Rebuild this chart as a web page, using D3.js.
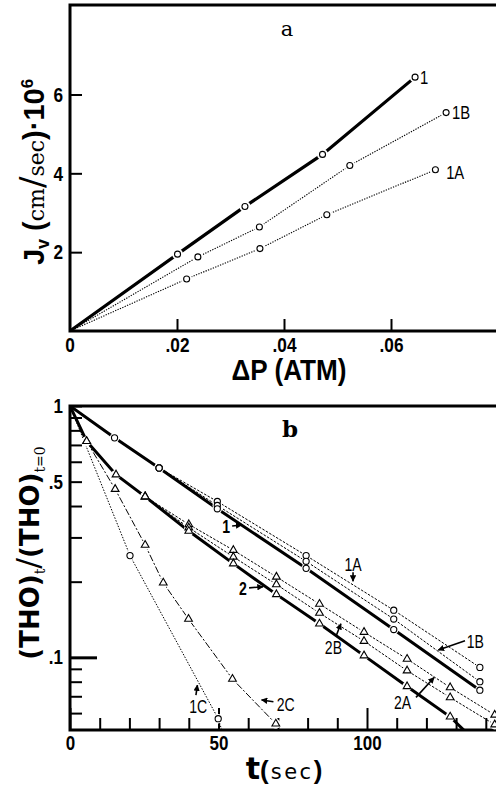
<!DOCTYPE html>
<html>
<head>
<meta charset="utf-8">
<script src="https://cdn.jsdelivr.net/npm/d3@7"></script>
<style>
	body { margin: 0; background: #fff; }
	svg { display: block; }
</style>
</head>
<body>
<div id="chart"></div>
<script>
// ---- panel a : Jv vs delta P ----
const aTicksX = [0.02, 0.04, 0.06];
const aTickLabelsX = [".02", ".04", ".06"];
const aTicksY = [2, 4, 6];
// [deltaP (atm), Jv * 1e6]
const a1 = [[0, 0], [0.0201, 1.95], [0.0327, 3.16], [0.0472, 4.48], [0.0645, 6.44]];
const a1B = [[0, 0], [0.0239, 1.88], [0.0354, 2.64], [0.0523, 4.20], [0.0703, 5.54]];
const a1A = [[0, 0], [0.0218, 1.32], [0.0355, 2.09], [0.0480, 2.95], [0.0683, 4.09]];
const aNames = ["1", "1B", "1A"];
const aNamePos = [[0.0662, 6.45], [0.0731, 5.56], [0.0720, 4.03]];

// ---- panel b : (THO)t/(THO)t=0 vs t ----
const bTicksXMinor = [10, 20, 30, 40, 60, 70, 80, 90, 110, 120, 130, 140];
const bTicksXMajor = [0, 50, 100];
const bTicksYMinor = [0.9, 0.8, 0.7, 0.6, 0.4, 0.3, 0.2, 0.09, 0.08, 0.07, 0.06];
const bTicksYMajor = [1, 0.5, 0.1];
const bTickLabelsY = ["1", ".5", ".1"];
// [t (sec), fraction]
const b1 = [[0, 1], [15, 0.747], [30, 0.567], [49.6, 0.390], [79.5, 0.226], [109, 0.129], [138, 0.074]];
const b1A = [[30, 0.567], [49.6, 0.417], [79.5, 0.254], [109, 0.154], [138, 0.0912]];
const b1B = [[30, 0.567], [49.6, 0.402], [79.5, 0.241], [109, 0.142], [138, 0.080]];
const b1C = [[0, 1], [20.2, 0.254], [49.9, 0.057], [51.4, 0.05]];
const b2 = [[0, 1], [5.6, 0.724], [15.5, 0.533], [25.3, 0.436], [40, 0.318], [55, 0.236], [69.5, 0.178],
	[84, 0.136], [99, 0.1016], [113.5, 0.0766], [128, 0.058], [133.6, 0.05]];
const b2A = [[25.3, 0.436], [40, 0.338], [55, 0.267], [69.5, 0.209], [84, 0.163], [99, 0.126],
	[113.5, 0.0985], [128, 0.0759], [143, 0.0590]];
const b2B = [[25.3, 0.436], [40, 0.328], [55, 0.251], [69.5, 0.195], [84, 0.150], [99, 0.116],
	[113.5, 0.0885], [128, 0.0692], [143, 0.054]];
const b2C = [[0, 1], [5.6, 0.724], [15.2, 0.467], [25.3, 0.280], [31.4, 0.198], [39.9, 0.142],
	[54.7, 0.082], [69.3, 0.0544]];
// annotations: name, text position, arrow start, arrow tip
const bNames = ["1A", "1B", "1", "2", "2B", "2A", "1C", "2C"];
const bNamePos = [[95.3, 0.235], [136.5, 0.116], [52.6, 0.331], [58.2, 0.188], [88.7, 0.109], [112, 0.066], [43.2, 0.0637], [72.6, 0.0647]];
const bArrowFrom = [[95.3, 0.218], [133, 0.1164], [54.6, 0.333], [60.3, 0.189], [89.6, 0.1216], [116.5, 0.0693], [42.4, 0.0708], [68.5, 0.0666]];
const bArrowTo = [[95.3, 0.201], [124, 0.107], [57.8, 0.336], [65, 0.191], [91.2, 0.136], [122.6, 0.0832], [42.9, 0.0775], [64.5, 0.0677]];

const SANS = "'Liberation Sans',Arial,sans-serif";
const SERIF = "'DejaVu Serif','Liberation Serif',serif";
const WIDE = "'DejaVu Sans',sans-serif";

// squeeze a text horizontally (no condensed face installed)
function condense(sel, f) {
	sel.each(function () {
		const L = this.getComputedTextLength();
		this.setAttribute("textLength", L * f);
		this.setAttribute("lengthAdjust", "spacingAndGlyphs");
	});
}

const svg = d3.select("#chart").append("svg")
	.attr("width", 496).attr("height", 786);

const defs = svg.append("defs");
defs.append("marker")
	.attr("id", "head")
	.attr("viewBox", "0 0 10 10")
	.attr("refX", 9).attr("refY", 5)
	.attr("markerWidth", 4).attr("markerHeight", 4)
	.attr("markerUnits", "strokeWidth")
	.attr("orient", "auto")
	.append("path").attr("d", "M0,0L10,5L0,10z").attr("fill", "#000");

// =========== PANEL A ===========
const xA = d3.scaleLinear().domain([0, 0.08]).range([70, 498]);
const yA = d3.scaleLinear().domain([0, 8.27]).range([331, 5]);
const gA = svg.append("g");

const axA = gA.append("g").attr("transform", `translate(0,${yA(0)})`)
	.call(d3.axisBottom(xA).tickValues(aTicksX).tickSize(-12).tickPadding(6)
		.tickFormat((d, i) => aTickLabelsX[i]));
const ayA = gA.append("g").attr("transform", `translate(${xA(0)},0)`)
	.call(d3.axisLeft(yA).tickValues(aTicksY).tickSize(-12).tickPadding(7));
gA.append("text").attr("class", "zero").attr("x", xA(0)).attr("y", yA(0) + 6).attr("dy", "0.71em")
	.attr("text-anchor", "middle").text("0")
	.style("font-family", SANS).style("font-weight", "bold").style("font-size", "21px");

[axA, ayA].forEach(ax => {
	ax.select(".domain").remove();
	ax.selectAll(".tick line").attr("stroke", "#000").attr("stroke-width", 2);
	ax.selectAll(".tick text").style("font-family", SANS).style("font-weight", "bold")
		.style("font-size", "21px").attr("fill", "#000");
});
condense(gA.selectAll(".tick text, text.zero"), 0.82);

// frame
gA.append("path")
	.attr("d", `M${xA(0.08)},${yA(8.27)}H${xA(0)}V${yA(0)}H${xA(0.08)}`)
	.attr("fill", "none").attr("stroke", "#000").attr("stroke-width", 3);

const lineA = d3.line().x(d => xA(d[0])).y(d => yA(d[1]));
const aSeries = [
	{ pts: a1, w: 3.2, dash: null },
	{ pts: a1B, w: 1.1, dash: "1.3,1.3" },
	{ pts: a1A, w: 1.1, dash: "1.3,1.3" }
];
aSeries.forEach(s => {
	gA.append("path").datum(s.pts).attr("d", lineA)
		.attr("fill", "none").attr("stroke", "#000")
		.attr("stroke-width", s.w).attr("stroke-dasharray", s.dash);
});
const aPts = aSeries.flatMap(s => s.pts.filter(d => d[0] > 0));
gA.selectAll("circle.halo").data(aPts).enter().append("circle").attr("class", "halo")
	.attr("cx", d => xA(d[0])).attr("cy", d => yA(d[1])).attr("r", 5.5).attr("fill", "#fff");
gA.selectAll("circle.mk").data(aPts).enter().append("circle").attr("class", "mk")
	.attr("cx", d => xA(d[0])).attr("cy", d => yA(d[1])).attr("r", 3)
	.attr("fill", "#fff").attr("stroke", "#000").attr("stroke-width", 1.1);

const aNameText = gA.selectAll("text.name").data(aNames).enter().append("text").attr("class", "name")
	.attr("x", (d, i) => xA(aNamePos[i][0])).attr("y", (d, i) => yA(aNamePos[i][1]))
	.attr("dy", "0.36em").attr("text-anchor", "middle").text(d => d)
	.style("font-family", SANS).style("font-size", "19px");
condense(aNameText, 0.78);

gA.append("text").attr("x", 287).attr("y", 36).attr("text-anchor", "middle").text("a")
	.style("font-family", SERIF).style("font-size", "21px");

const xLabA = gA.append("text").attr("x", 289).attr("y", 380).attr("text-anchor", "middle")
	.text("\u0394P (ATM)")
	.style("font-family", SANS).style("font-weight", "bold").style("font-size", "29px");
condense(xLabA, 0.9);

const yLabA = gA.append("text").attr("transform", "translate(44,172) rotate(-90)")
	.attr("text-anchor", "middle").attr("fill", "#000");
yLabA.append("tspan").text("J").style("font-family", SANS).style("font-weight", "bold").style("font-size", "29px");
yLabA.append("tspan").text("v").attr("dy", 5).style("font-family", SANS).style("font-weight", "bold").style("font-size", "18px");
yLabA.append("tspan").text(" (").attr("dy", -5).style("font-family", SANS).style("font-weight", "bold").style("font-size", "29px");
yLabA.append("tspan").text("cm").style("font-family", SERIF).style("font-size", "22px");
yLabA.append("tspan").text("/").style("font-family", SERIF).style("font-size", "34px");
yLabA.append("tspan").text("sec").style("font-family", SERIF).style("font-size", "22px");
yLabA.append("tspan").text(")\u00b710").style("font-family", SANS).style("font-weight", "bold").style("font-size", "29px");
yLabA.append("tspan").text("6").attr("dy", -11).style("font-family", SANS).style("font-weight", "bold").style("font-size", "17px");

// =========== PANEL B ===========
const xB = d3.scaleLinear().domain([0, 150]).range([70, 515.5]);
const yB = d3.scaleLog().domain([0.05, 1]).range([733, 406]);
const bBottom = 730;
const gB = svg.append("g");

defs.append("clipPath").attr("id", "clipB").append("rect")
	.attr("x", xB(0)).attr("y", yB(1)).attr("width", xB(150) - xB(0)).attr("height", bBottom - yB(1));

const axMinor = gB.append("g").attr("transform", `translate(0,${bBottom})`)
	.call(d3.axisBottom(xB).tickValues(bTicksXMinor).tickSize(-12).tickFormat(""));
const axMajor = gB.append("g").attr("transform", `translate(0,${bBottom})`)
	.call(d3.axisBottom(xB).tickValues(bTicksXMajor).tickSize(-22).tickPadding(6));
const ayMinor = gB.append("g").attr("transform", `translate(${xB(0)},0)`)
	.call(d3.axisLeft(yB).tickValues(bTicksYMinor).tickSize(-12).tickFormat(""));
const ayMajor = gB.append("g").attr("transform", `translate(${xB(0)},0)`)
	.call(d3.axisLeft(yB).tickValues(bTicksYMajor).tickSize(-12).tickPadding(7)
		.tickFormat((d, i) => bTickLabelsY[i]));

[axMinor, axMajor, ayMinor, ayMajor].forEach(ax => {
	ax.select(".domain").remove();
	ax.selectAll(".tick line").attr("stroke", "#000").attr("stroke-width", 2);
	ax.selectAll(".tick text").style("font-family", SANS).style("font-weight", "bold")
		.style("font-size", "20px").attr("fill", "#000");
});
ayMajor.selectAll(".tick").filter(d => d === 0.1).select("line")
	.attr("x2", 27).attr("stroke-width", 3);
condense(gB.selectAll(".tick text"), 0.85);

gB.append("path")
	.attr("d", `M${xB(150)},${yB(1)}H${xB(0)}V${bBottom}H${xB(150)}`)
	.attr("fill", "none").attr("stroke", "#000").attr("stroke-width", 3);

const lineB = d3.line().x(d => xB(d[0])).y(d => yB(d[1]));
const plotB = gB.append("g").attr("clip-path", "url(#clipB)");
const bSeries = [
	{ pts: b1A, w: 1, dash: "2.5,1.5", mk: "c" },
	{ pts: b1B, w: 1, dash: "2.5,1.5", mk: "c" },
	{ pts: b1, w: 3, dash: null, mk: "c" },
	{ pts: b1C, w: 1, dash: "1.5,1.5", mk: "c" },
	{ pts: b2A, w: 1, dash: "2.5,1.5", mk: "t" },
	{ pts: b2B, w: 1, dash: "2.5,1.5", mk: "t" },
	{ pts: b2, w: 3, dash: null, mk: "t" },
	{ pts: b2C, w: 1, dash: "7,2,2,2", mk: "t" }
];
bSeries.forEach(s => {
	plotB.append("path").datum(s.pts).attr("d", lineB)
		.attr("fill", "none").attr("stroke", "#000")
		.attr("stroke-width", s.w).attr("stroke-dasharray", s.dash);
});
const bPts = bSeries.flatMap(s => s.pts.filter(d => d[0] > 0 && d[1] > 0.05).map(d => ({ d: d, mk: s.mk })));
plotB.selectAll("circle.halo").data(bPts).enter().append("circle").attr("class", "halo")
	.attr("cx", p => xB(p.d[0])).attr("cy", p => yB(p.d[1])).attr("r", 4.8).attr("fill", "#fff");
const tri = d3.symbol().type(d3.symbolTriangle).size(26);
const circ = d3.symbol().type(d3.symbolCircle).size(30);
plotB.selectAll("path.mk").data(bPts).enter().append("path").attr("class", "mk")
	.attr("transform", p => `translate(${xB(p.d[0])},${yB(p.d[1])})`)
	.attr("d", p => p.mk === "t" ? tri() : circ())
	.attr("fill", "#fff").attr("stroke", "#000").attr("stroke-width", 1.1);

const bNameText = gB.selectAll("text.name").data(bNames).enter().append("text").attr("class", "name")
	.attr("x", (d, i) => xB(bNamePos[i][0])).attr("y", (d, i) => yB(bNamePos[i][1]))
	.attr("dy", "0.36em").attr("text-anchor", "middle").text(d => d)
	.style("font-family", SANS).style("font-size", "18px")
	.style("font-weight", d => d.length === 1 ? "bold" : "normal");
condense(bNameText, 0.78);
gB.selectAll("line.arrow").data(bNames).enter().append("line").attr("class", "arrow")
	.attr("x1", (d, i) => xB(bArrowFrom[i][0])).attr("y1", (d, i) => yB(bArrowFrom[i][1]))
	.attr("x2", (d, i) => xB(bArrowTo[i][0])).attr("y2", (d, i) => yB(bArrowTo[i][1]))
	.attr("stroke", "#000").attr("stroke-width", 1.6).attr("marker-end", "url(#head)");

gB.append("text").attr("x", 290).attr("y", 437).attr("text-anchor", "middle").text("b")
	.style("font-family", SERIF).style("font-weight", "bold").style("font-size", "23px");

const xLabB = gB.append("text").attr("x", 284).attr("y", 779).attr("text-anchor", "middle");
xLabB.append("tspan").text("t").style("font-family", WIDE).style("font-weight", "bold").style("font-size", "30px");
xLabB.append("tspan").text("(").style("font-family", SANS).style("font-weight", "bold").style("font-size", "26px");
xLabB.append("tspan").text("sec").attr("dx", 2).attr("letter-spacing", 2.5)
	.style("font-family", WIDE).style("font-size", "21px");
xLabB.append("tspan").text(")").style("font-family", SANS).style("font-weight", "bold").style("font-size", "26px");

const yLabB = gB.append("text").attr("transform", "translate(39,553) rotate(-90)")
	.attr("text-anchor", "middle");
yLabB.append("tspan").text("(THO)").style("font-family", WIDE).style("font-weight", "bold").style("font-size", "26px");
yLabB.append("tspan").text("t").attr("dy", 6).style("font-family", SERIF).style("font-size", "14px");
yLabB.append("tspan").text("/").attr("dy", -6).style("font-family", SERIF).style("font-size", "32px");
yLabB.append("tspan").text("(THO)").style("font-family", WIDE).style("font-weight", "bold").style("font-size", "26px");
yLabB.append("tspan").text("t=0").attr("dy", 6).style("font-family", SERIF).style("font-size", "14px");
</script>
</body>
</html>
